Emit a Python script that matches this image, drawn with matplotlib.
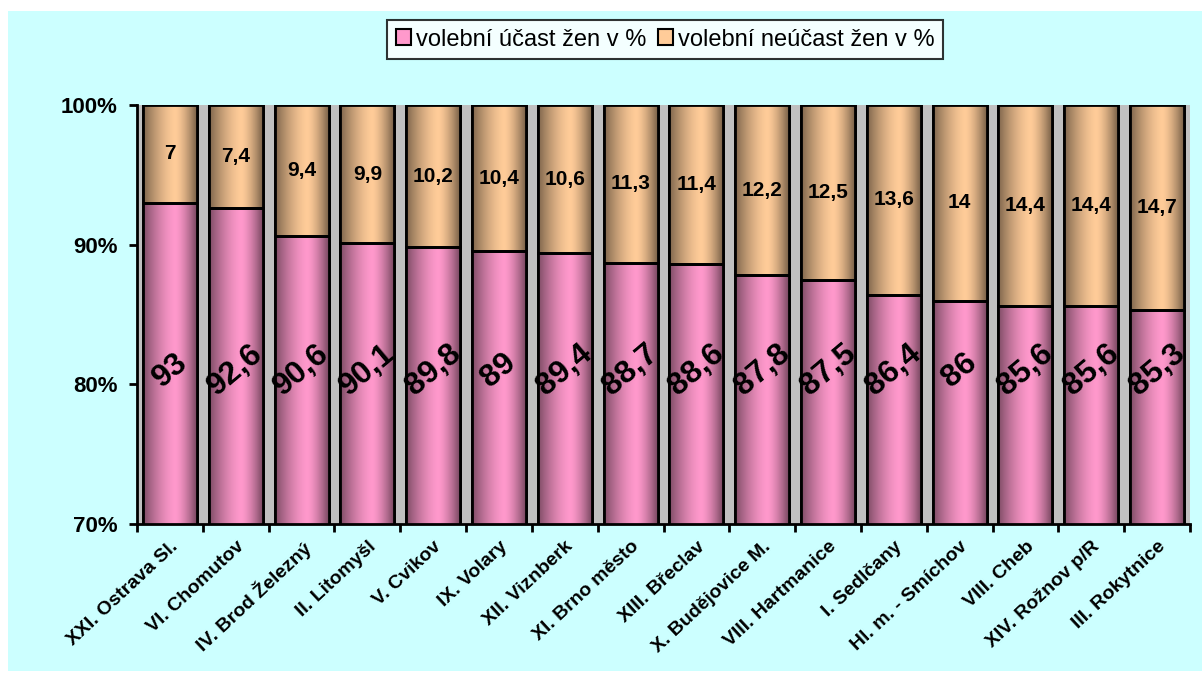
import numpy as np
import matplotlib.pyplot as plt
from matplotlib.patches import Rectangle, Patch
from matplotlib.colors import to_rgb

plt.rcParams['font.family'] = ['Liberation Sans', 'DejaVu Sans']

districts = [
    "XXI. Ostrava Sl.", "VI. Chomutov", "IV. Brod Železný", "II. Litomyšl",
    "V. Cvikov", "IX. Volary", "XII. Viznberk", "XI. Brno město",
    "XIII. Břeclav", "X. Budějovice M.", "VIII. Hartmanice", "I. Sedlčany",
    "Hl. m. - Smíchov", "VIII. Cheb", "XIV. Rožnov p/R", "III. Rokytnice",
]
turnout = [93, 92.6, 90.6, 90.1, 89.8, 89, 89.4, 88.7, 88.6, 87.8, 87.5, 86.4, 86, 85.6, 85.6, 85.3]
absent = [7, 7.4, 9.4, 9.9, 10.2, 10.4, 10.6, 11.3, 11.4, 12.2, 12.5, 13.6, 14, 14.4, 14.4, 14.7]
series_names = ["volební účast žen v %", "volební neúčast žen v %"]

PINK = "#FF99CC"
TAN = "#FFCC99"
CYAN = "#CCFFFF"
GRAY = "#C0C0C0"

turnout = np.array(turnout)
absent = np.array(absent)
total = turnout + absent
pct_in = turnout / total * 100
pct_out = absent / total * 100


def gradient_img(color, n=64):
    t = np.linspace(0, 1, n)
    peak = 0.6
    f = np.where(t < peak, 1 - 0.5 * ((peak - t) / peak) ** 1.5,
                 1 - 0.52 * ((t - peak) / (1 - peak)) ** 1.5)
    rgb = np.array(to_rgb(color))
    img = np.clip(rgb[None, :] * f[:, None], 0, 1)
    return img[None, :, :]


def fmt(v):
    return ("%g" % v).replace(".", ",")


fig = plt.figure(figsize=(12.02, 6.73), dpi=100)
fig.patch.set_facecolor("white")
fig.patches.append(Rectangle((8 / 1202, 2 / 673), 1 - 8 / 1202, 1 - 13 / 673,
                             transform=fig.transFigure, facecolor=CYAN,
                             edgecolor="none", zorder=-10))

ax = fig.add_axes([137 / 1202, (673 - 524) / 673, (1190 - 137) / 1202, (524 - 105) / 673])
ax.set_facecolor(GRAY)

x = np.arange(len(districts))
w = 0.82
bars_in = ax.bar(x, pct_in, w, color=PINK, edgecolor="black", linewidth=2, zorder=2)
bars_out = ax.bar(x, pct_out, w, bottom=pct_in, color=TAN, edgecolor="black", linewidth=2, zorder=2)

for bars, col in ((bars_in, PINK), (bars_out, TAN)):
    img = gradient_img(col)
    for b in bars:
        x0, y0 = b.get_x(), b.get_y()
        ax.imshow(img, extent=(x0, x0 + b.get_width(), y0, y0 + b.get_height()),
                  aspect="auto", zorder=2.5, interpolation="bilinear")
        ax.add_patch(Rectangle((x0, y0), b.get_width(), b.get_height(), fill=False,
                               edgecolor="black", linewidth=2, zorder=3))

for i in range(len(districts)):
    ax.text(x[i], 81, fmt(turnout[i]), rotation=40, ha="center", va="center",
            fontsize=23, fontweight="bold", zorder=5)
    ax.text(x[i], pct_in[i] + pct_out[i] / 2, fmt(absent[i]), ha="center", va="center",
            fontsize=15, fontweight="bold", zorder=5)

ax.set_xlim(-0.5, len(districts) - 0.5)
ax.set_ylim(70, 100)
ax.set_yticks([70, 80, 90, 100])
ax.set_yticklabels(["70%", "80%", "90%", "100%"], fontsize=16, fontweight="bold")
ax.set_xticks(np.arange(len(districts) + 1) - 0.5, minor=False)
ax.set_xticklabels([])
ax.set_xticks(x, minor=True)
ax.set_xticklabels(districts, minor=True, rotation=43, ha="right", va="top",
                   rotation_mode="anchor", fontsize=14, fontweight="bold")
ax.tick_params(axis="x", which="minor", length=0, pad=10)
ax.tick_params(axis="x", which="major", length=6, width=2)
ax.tick_params(axis="y", length=6, width=2, pad=8)
for s in ("top", "right"):
    ax.spines[s].set_visible(False)
for s in ("left", "bottom"):
    ax.spines[s].set_linewidth(2)

handles = [Patch(facecolor=PINK, edgecolor="black", linewidth=1.5),
           Patch(facecolor=TAN, edgecolor="black", linewidth=1.5)]
leg = fig.legend(handles, series_names, loc="center", bbox_to_anchor=(665 / 1202, 1 - 39.5 / 673),
                 ncol=2, fontsize=17, frameon=True, fancybox=False, handlelength=0.65,
                 handleheight=0.65, handletextpad=0.2, columnspacing=0.5, borderpad=0.35)
leg.get_frame().set_edgecolor("black")
leg.get_frame().set_linewidth(1.5)

fig.savefig("out.png", dpi=100, facecolor=fig.get_facecolor())
